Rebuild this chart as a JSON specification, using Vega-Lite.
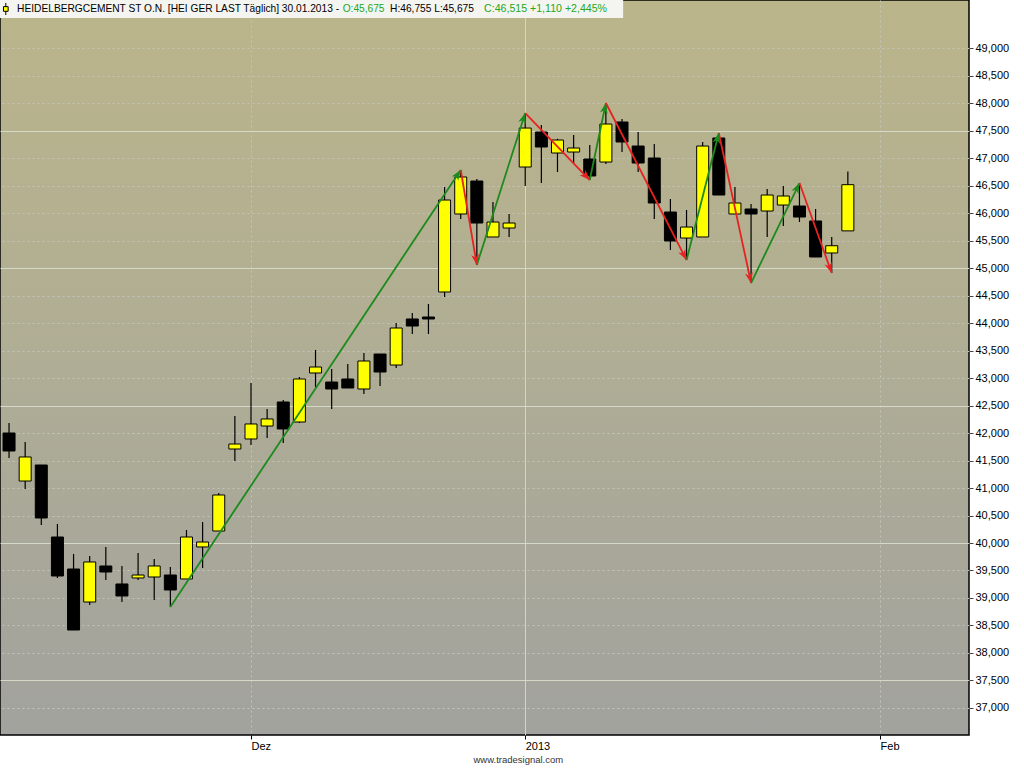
{
  "$schema": "https://vega.github.io/schema/vega-lite/v6.json",
  "width": 969,
  "height": 735,
  "autosize": {"type": "none"},
  "padding": {"left": 0, "top": 0, "right": 55, "bottom": 33},
  "background": "#ffffff",
  "title": {
    "text": "www.tradesignal.com",
    "orient": "bottom",
    "anchor": "middle",
    "frame": "bounds",
    "offset": 4,
    "dx": 14,
    "font": "Liberation Sans",
    "fontSize": 9.5,
    "fontWeight": "normal",
    "color": "#333333"
  },
  "datasets": {
    "candles": [
      {"n": 1, "date": "2012-11-12", "open": 42.000, "high": 42.182, "low": 41.545, "close": 41.673},
      {"n": 2, "date": "2012-11-13", "open": 41.127, "high": 41.836, "low": 40.982, "close": 41.564},
      {"n": 3, "date": "2012-11-14", "open": 41.418, "high": 41.418, "low": 40.327, "close": 40.455},
      {"n": 4, "date": "2012-11-15", "open": 40.109, "high": 40.346, "low": 39.364, "close": 39.400},
      {"n": 5, "date": "2012-11-16", "open": 39.527, "high": 39.800, "low": 38.418, "close": 38.418},
      {"n": 6, "date": "2012-11-19", "open": 38.927, "high": 39.764, "low": 38.873, "close": 39.655},
      {"n": 7, "date": "2012-11-20", "open": 39.582, "high": 39.928, "low": 39.327, "close": 39.473},
      {"n": 8, "date": "2012-11-21", "open": 39.255, "high": 39.582, "low": 38.927, "close": 39.037},
      {"n": 9, "date": "2012-11-22", "open": 39.364, "high": 39.818, "low": 39.327, "close": 39.418},
      {"n": 10, "date": "2012-11-23", "open": 39.382, "high": 39.709, "low": 38.964, "close": 39.582},
      {"n": 11, "date": "2012-11-26", "open": 39.418, "high": 39.564, "low": 38.836, "close": 39.146},
      {"n": 12, "date": "2012-11-27", "open": 39.346, "high": 40.237, "low": 39.346, "close": 40.109},
      {"n": 13, "date": "2012-11-28", "open": 39.928, "high": 40.382, "low": 39.546, "close": 40.018},
      {"n": 14, "date": "2012-11-29", "open": 40.218, "high": 40.909, "low": 40.218, "close": 40.873},
      {"n": 15, "date": "2012-11-30", "open": 41.709, "high": 42.309, "low": 41.491, "close": 41.800},
      {"n": 16, "date": "2012-12-03", "open": 41.891, "high": 42.909, "low": 41.782, "close": 42.164},
      {"n": 17, "date": "2012-12-04", "open": 42.127, "high": 42.436, "low": 41.909, "close": 42.255},
      {"n": 18, "date": "2012-12-05", "open": 42.564, "high": 42.600, "low": 41.818, "close": 42.073},
      {"n": 19, "date": "2012-12-06", "open": 42.200, "high": 43.018, "low": 42.182, "close": 42.982},
      {"n": 20, "date": "2012-12-07", "open": 43.091, "high": 43.509, "low": 42.836, "close": 43.200},
      {"n": 21, "date": "2012-12-10", "open": 42.927, "high": 43.164, "low": 42.436, "close": 42.800},
      {"n": 22, "date": "2012-12-11", "open": 42.982, "high": 43.255, "low": 42.818, "close": 42.818},
      {"n": 23, "date": "2012-12-12", "open": 42.800, "high": 43.455, "low": 42.709, "close": 43.309},
      {"n": 24, "date": "2012-12-13", "open": 43.436, "high": 43.436, "low": 42.855, "close": 43.109},
      {"n": 25, "date": "2012-12-14", "open": 43.236, "high": 44.000, "low": 43.182, "close": 43.909},
      {"n": 26, "date": "2012-12-17", "open": 44.073, "high": 44.182, "low": 43.800, "close": 43.945},
      {"n": 27, "date": "2012-12-18", "open": 44.109, "high": 44.345, "low": 43.800, "close": 44.073},
      {"n": 28, "date": "2012-12-19", "open": 44.564, "high": 46.473, "low": 44.473, "close": 46.236},
      {"n": 29, "date": "2012-12-20", "open": 45.982, "high": 46.782, "low": 45.891, "close": 46.655},
      {"n": 30, "date": "2012-12-21", "open": 46.582, "high": 46.618, "low": 45.055, "close": 45.818},
      {"n": 31, "date": "2012-12-27", "open": 45.564, "high": 46.200, "low": 45.564, "close": 45.836},
      {"n": 32, "date": "2012-12-28", "open": 45.727, "high": 45.982, "low": 45.564, "close": 45.818},
      {"n": 33, "date": "2013-01-02", "open": 46.836, "high": 47.818, "low": 46.491, "close": 47.545},
      {"n": 34, "date": "2013-01-03", "open": 47.473, "high": 47.600, "low": 46.545, "close": 47.200},
      {"n": 35, "date": "2013-01-04", "open": 47.091, "high": 47.350, "low": 46.745, "close": 47.327},
      {"n": 36, "date": "2013-01-07", "open": 47.109, "high": 47.418, "low": 46.891, "close": 47.182},
      {"n": 37, "date": "2013-01-08", "open": 46.982, "high": 47.236, "low": 46.600, "close": 46.673},
      {"n": 38, "date": "2013-01-09", "open": 46.927, "high": 48.000, "low": 46.891, "close": 47.618},
      {"n": 39, "date": "2013-01-10", "open": 47.655, "high": 47.709, "low": 47.109, "close": 47.291},
      {"n": 40, "date": "2013-01-11", "open": 47.218, "high": 47.473, "low": 46.745, "close": 46.909},
      {"n": 41, "date": "2013-01-14", "open": 47.000, "high": 47.255, "low": 45.891, "close": 46.182},
      {"n": 42, "date": "2013-01-15", "open": 46.018, "high": 46.255, "low": 45.327, "close": 45.491},
      {"n": 43, "date": "2013-01-16", "open": 45.545, "high": 46.055, "low": 45.145, "close": 45.745},
      {"n": 44, "date": "2013-01-17", "open": 45.564, "high": 47.291, "low": 45.564, "close": 47.218},
      {"n": 45, "date": "2013-01-18", "open": 47.364, "high": 47.455, "low": 46.327, "close": 46.327},
      {"n": 46, "date": "2013-01-21", "open": 45.982, "high": 46.473, "low": 45.982, "close": 46.182},
      {"n": 47, "date": "2013-01-22", "open": 46.073, "high": 46.164, "low": 44.727, "close": 45.982},
      {"n": 48, "date": "2013-01-23", "open": 46.036, "high": 46.436, "low": 45.564, "close": 46.327},
      {"n": 49, "date": "2013-01-24", "open": 46.145, "high": 46.491, "low": 45.764, "close": 46.309},
      {"n": 50, "date": "2013-01-25", "open": 46.127, "high": 46.545, "low": 45.836, "close": 45.927},
      {"n": 51, "date": "2013-01-28", "open": 45.855, "high": 46.073, "low": 45.200, "close": 45.200},
      {"n": 52, "date": "2013-01-29", "open": 45.273, "high": 45.564, "low": 44.909, "close": 45.405},
      {"n": 53, "date": "2013-01-30", "open": 45.675, "high": 46.755, "low": 45.675, "close": 46.515}
    ],
    "swings": [
      {"from_n": 11, "from_v": 38.836, "to_n": 29, "to_v": 46.782, "dir": "up"},
      {"from_n": 29, "from_v": 46.782, "to_n": 30, "to_v": 45.055, "dir": "down"},
      {"from_n": 30, "from_v": 45.055, "to_n": 33, "to_v": 47.818, "dir": "up"},
      {"from_n": 33, "from_v": 47.818, "to_n": 37, "to_v": 46.600, "dir": "down"},
      {"from_n": 37, "from_v": 46.600, "to_n": 38, "to_v": 48.000, "dir": "up"},
      {"from_n": 38, "from_v": 48.000, "to_n": 43, "to_v": 45.145, "dir": "down"},
      {"from_n": 43, "from_v": 45.145, "to_n": 45, "to_v": 47.455, "dir": "up"},
      {"from_n": 45, "from_v": 47.455, "to_n": 47, "to_v": 44.727, "dir": "down"},
      {"from_n": 47, "from_v": 44.727, "to_n": 50, "to_v": 46.545, "dir": "up"},
      {"from_n": 50, "from_v": 46.545, "to_n": 52, "to_v": 44.909, "dir": "down"}
    ]
  },
  "layer": [
    {
      "data": {"name": "candles"},
      "mark": {"type": "rule", "color": "#000000", "strokeWidth": 1.2},
      "encoding": {
        "x": {
          "field": "n",
          "type": "quantitative",
          "scale": {"domain": [0.44, 60.51], "nice": false, "zero": false, "padding": 0},
          "axis": {
            "values": [16, 33, 55],
            "tickCount": 10,
            "title": null,
            "domain": false,
            "orient": "bottom",
            "tickSize": 4,
            "tickColor": "#000000",
            "labelAlign": "left",
            "labelBaseline": "top",
            "labelPadding": 1,
            "labelDx": 1,
            "labelOverlap": false,
            "labelFlush": false,
            "labelExpr": "datum.value == 16 ? 'Dez' : datum.value == 33 ? '2013' : 'Feb'",
            "grid": true,
            "gridColor": {"condition": {"test": "datum.value == 33", "value": "#d2d6c6"}, "value": "#c2c4b8"},
            "gridDash": {"condition": {"test": "datum.value == 33", "value": []}, "value": [2, 3]}
          }
        },
        "y": {
          "field": "low",
          "type": "quantitative",
          "scale": {"domain": [36.509, 49.873], "nice": false, "zero": false, "padding": 0},
          "axis": {
            "orient": "right",
            "values": [37, 37.5, 38, 38.5, 39, 39.5, 40, 40.5, 41, 41.5, 42, 42.5, 43, 43.5, 44, 44.5, 45, 45.5, 46, 46.5, 47, 47.5, 48, 48.5, 49],
            "tickCount": 40,
            "domain": false,
            "tickSize": 4,
            "tickColor": "#444444",
            "labelPadding": 2,
            "labelAlign": "left",
            "labelFlush": false,
            "labelOverlap": false,
            "labelExpr": "replace(format(datum.value, '.3f'), '.', ',')",
            "title": "€",
            "titleAngle": 0,
            "titleX": 6,
            "titleY": 3,
            "titleAlign": "left",
            "titleBaseline": "top",
            "titleFontWeight": "normal",
            "titleFontSize": 11,
            "titleFont": "Liberation Sans",
            "titleColor": "#000000",
            "grid": true,
            "gridColor": {"condition": {"test": "datum.value % 2.5 === 0", "value": "#d4d9c8"}, "value": "#c2c4b8"},
            "gridDash": {"condition": {"test": "datum.value % 2.5 === 0", "value": []}, "value": [2, 3]}
          }
        },
        "y2": {"field": "high"}
      }
    },
    {
      "data": {"name": "candles"},
      "mark": {"type": "bar", "width": 12, "stroke": "#000000", "strokeWidth": 1},
      "encoding": {
        "x": {"field": "n", "type": "quantitative", "title": null},
        "y": {"field": "open", "type": "quantitative", "title": null},
        "y2": {"field": "close"},
        "fill": {
          "condition": {"test": "datum.close >= datum.open", "value": "#ffff00"},
          "value": "#000000"
        },
        "tooltip": [
          {"field": "date", "title": "Datum"},
          {"field": "open", "title": "O", "format": ".3f"},
          {"field": "high", "title": "H", "format": ".3f"},
          {"field": "low", "title": "L", "format": ".3f"},
          {"field": "close", "title": "C", "format": ".3f"}
        ]
      }
    },
    {
      "data": {"name": "swings"},
      "mark": {"type": "rule", "strokeWidth": 1.8},
      "encoding": {
        "x": {"field": "from_n", "type": "quantitative", "title": null},
        "x2": {"field": "to_n"},
        "y": {"field": "from_v", "type": "quantitative", "title": null},
        "y2": {"field": "to_v"},
        "color": {
          "field": "dir",
          "type": "nominal",
          "scale": {"domain": ["up", "down"], "range": ["#1c8a1c", "#e82222"]},
          "legend": null
        }
      }
    },
    {
      "data": {"name": "swings"},
      "mark": {
        "type": "point",
        "filled": true,
        "opacity": 1,
        "size": 170,
        "shape": "M0,0L-0.6,1.6L0,1.15L0.6,1.6Z",
        "angle": {"expr": "atan2(scale('x', datum.to_n) - scale('x', datum.from_n), scale('y', datum.from_v) - scale('y', datum.to_v)) * 180 / PI"}
      },
      "encoding": {
        "x": {"field": "to_n", "type": "quantitative", "title": null},
        "y": {"field": "to_v", "type": "quantitative", "title": null},
        "color": {
          "field": "dir",
          "type": "nominal",
          "scale": {"domain": ["up", "down"], "range": ["#1c8a1c", "#e82222"]},
          "legend": null
        }
      }
    },
    {
      "data": {"values": [{}]},
      "mark": {"type": "rect", "fill": "#f4f4f0"},
      "encoding": {
        "x": {"datum": 0.44, "type": "quantitative"},
        "x2": {"datum": 39.07},
        "y": {"datum": 49.873, "type": "quantitative"},
        "y2": {"datum": 49.546}
      }
    },
    {
      "data": {"values": [{}]},
      "mark": {"type": "rule", "color": "#000000", "strokeWidth": 1},
      "encoding": {
        "x": {"datum": 0.80, "type": "quantitative"},
        "y": {"datum": 49.82, "type": "quantitative"},
        "y2": {"datum": 49.60}
      }
    },
    {
      "data": {"values": [{}]},
      "mark": {"type": "square", "size": 22, "fill": "#ffff00", "stroke": "#000000", "strokeWidth": 1, "opacity": 1},
      "encoding": {
        "x": {"datum": 0.80, "type": "quantitative"},
        "y": {"datum": 49.71, "type": "quantitative"}
      }
    },
    {
      "data": {"values": [{}]},
      "mark": {"type": "text", "align": "left", "baseline": "middle", "font": "Liberation Sans", "fontSize": 10.2, "color": "#000000", "text": "HEIDELBERGCEMENT ST O.N. [HEI GER LAST Täglich] 30.01.2013 -"},
      "encoding": {
        "x": {"datum": 1.5, "type": "quantitative"},
        "y": {"datum": 49.71, "type": "quantitative"}
      }
    },
    {
      "data": {"values": [{}]},
      "mark": {"type": "text", "align": "left", "baseline": "middle", "font": "Liberation Sans", "fontSize": 10.2, "color": "#22a822", "text": "O:45,675"},
      "encoding": {
        "x": {"datum": 21.68, "type": "quantitative"},
        "y": {"datum": 49.71, "type": "quantitative"}
      }
    },
    {
      "data": {"values": [{}]},
      "mark": {"type": "text", "align": "left", "baseline": "middle", "font": "Liberation Sans", "fontSize": 10.2, "color": "#000000", "text": "H:46,755 L:45,675"},
      "encoding": {
        "x": {"datum": 24.62, "type": "quantitative"},
        "y": {"datum": 49.71, "type": "quantitative"}
      }
    },
    {
      "data": {"values": [{}]},
      "mark": {"type": "text", "align": "left", "baseline": "middle", "font": "Liberation Sans", "fontSize": 10.6, "color": "#22a822", "text": "C:46,515 +1,110 +2,445%"},
      "encoding": {
        "x": {"datum": 30.45, "type": "quantitative"},
        "y": {"datum": 49.71, "type": "quantitative"}
      }
    }
  ],
  "config": {
    "view": {
      "stroke": "#000000",
      "strokeWidth": 1.5,
      "fill": {
        "gradient": "linear",
        "x1": 0, "y1": 0, "x2": 0, "y2": 1,
        "stops": [
          {"offset": 0, "color": "#bbb58a"},
          {"offset": 0.5, "color": "#afad95"},
          {"offset": 1, "color": "#a2a29e"}
        ]
      }
    },
    "axis": {
      "labelFont": "Liberation Sans",
      "labelFontSize": 11,
      "labelColor": "#000000"
    }
  }
}
